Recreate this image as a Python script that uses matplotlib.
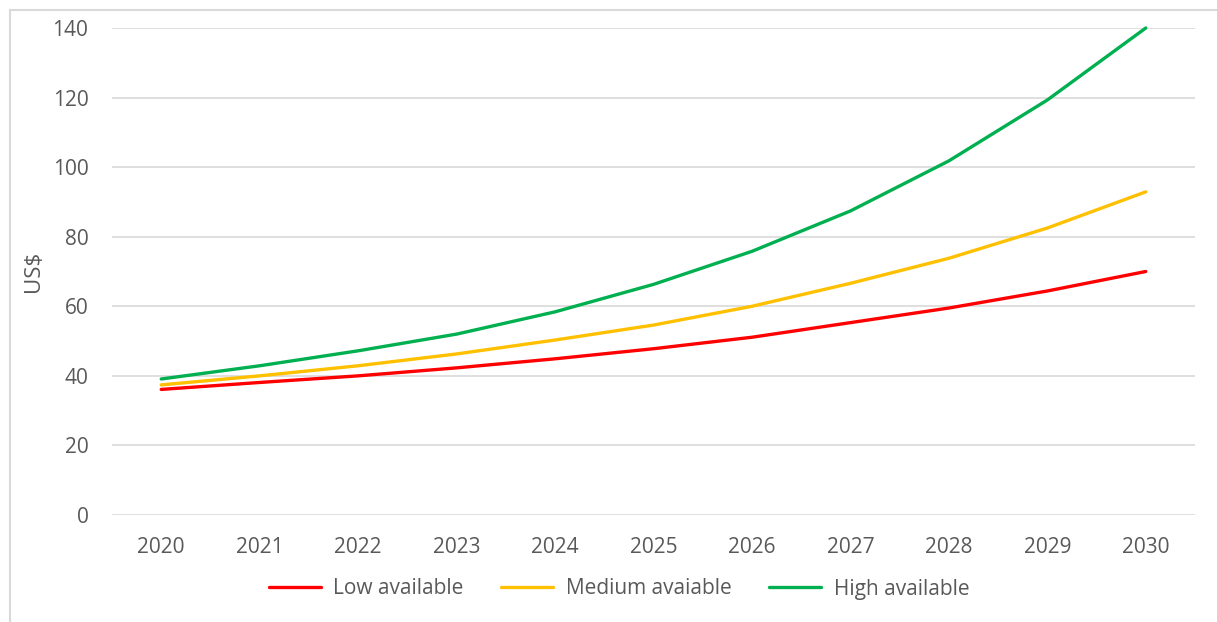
import matplotlib
matplotlib.use("Agg")
import matplotlib.pyplot as plt
from matplotlib.patches import Rectangle

years = ["2020", "2021", "2022", "2023", "2024", "2025", "2026", "2027", "2028", "2029", "2030"]
low = [36.1, 38.1, 40.0, 42.3, 44.9, 47.8, 51.1, 55.3, 59.5, 64.4, 70.0]
medium = [37.4, 40.0, 42.9, 46.3, 50.3, 54.6, 60.0, 66.6, 73.8, 82.5, 92.9]
high = [39.1, 42.9, 47.2, 52.0, 58.4, 66.3, 75.8, 87.4, 101.8, 119.3, 140.0]
series_names = ["Low available", "Medium avaiable", "High available"]
yticks = [0, 20, 40, 60, 80, 100, 120, 140]

plt.rcParams['font.family'] = ['Open Sans', 'DejaVu Sans']
W, H = 1217, 622
fig = plt.figure(figsize=(W / 100, H / 100), dpi=100)
ax = fig.add_axes([112 / W, 1 - 515 / H, (1195 - 112) / W, (515 - 28) / H])

x = list(range(len(years)))
ax.plot(x, low, color="#ff0000", lw=2.4, label=series_names[0], solid_capstyle="round")
ax.plot(x, medium, color="#ffc000", lw=2.4, label=series_names[1], solid_capstyle="round")
ax.plot(x, high, color="#00b050", lw=2.4, label=series_names[2], solid_capstyle="round", clip_on=False)

ax.set_xlim(-0.5, len(years) - 0.5)
ax.set_ylim(0, 140)
ax.set_yticks(yticks)
ax.set_xticks(x)
ax.set_xticklabels(years)
ax.grid(axis="y", color="#d9d9d9", lw=1.2)
ax.set_axisbelow(True)
for s in ax.spines.values():
    s.set_visible(False)
ax.tick_params(axis="both", length=0, labelsize=15, colors="#595959")
ax.tick_params(axis="y", pad=17)
ax.tick_params(axis="x", pad=16)
ax.set_ylabel("US$", fontsize=16, color="#595959", labelpad=6)

leg = fig.legend(loc="center", bbox_to_anchor=(619 / W, 1 - 589 / H), ncol=3, frameon=False,
                 fontsize=15, handlelength=2.5, columnspacing=1.8, handletextpad=0.6)
for t in leg.get_texts():
    t.set_color("#595959")

fig.patches.append(Rectangle((10 / W, -0.5), 2, 1.5 - 10 / H, transform=fig.transFigure,
                             fill=False, edgecolor="#d9d9d9", lw=1.5))

fig.savefig("out.png", dpi=100)
